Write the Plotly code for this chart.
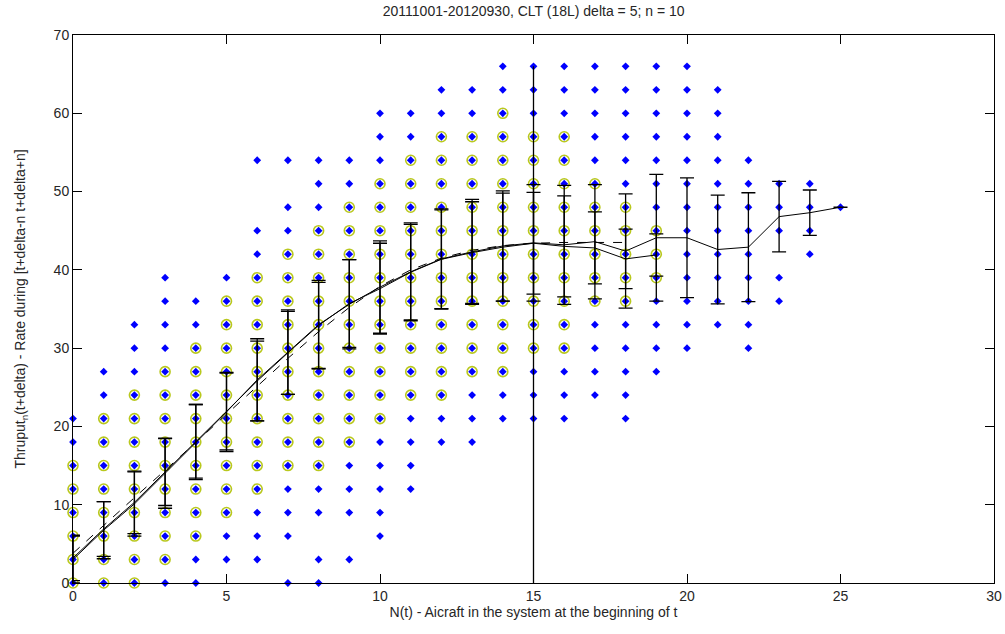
import plotly.graph_objects as go

# N(t) columns
n_values = list(range(26))

# observed throughput values (blue dots) per N
dots_by_n = [
    [0, 3, 6, 9, 12, 15, 18, 21],
    [0, 3, 6, 9, 12, 15, 18, 21, 24, 27],
    [0, 3, 6, 9, 12, 15, 18, 21, 24, 27, 30, 33],
    [0, 3, 6, 9, 12, 15, 18, 21, 24, 27, 30, 33, 36, 39],
    [0, 3, 6, 9, 12, 15, 18, 21, 24, 27, 30, 33, 36],
    [3, 6, 9, 12, 15, 18, 21, 24, 27, 30, 33, 36, 39],
    [3, 6, 9, 12, 15, 18, 21, 24, 27, 30, 33, 36, 39, 42, 45, 54],
    [0, 6, 9, 12, 15, 18, 21, 24, 27, 30, 33, 36, 39, 42, 45, 48, 54],
    [0, 3, 9, 12, 15, 18, 21, 24, 27, 30, 33, 36, 39, 42, 45, 48, 51, 54],
    [3, 9, 12, 15, 18, 21, 24, 27, 30, 33, 36, 39, 42, 45, 48, 51, 54],
    [6, 9, 12, 15, 18, 21, 24, 27, 30, 33, 36, 39, 42, 45, 48, 51, 54, 57, 60],
    [12, 15, 18, 21, 24, 27, 30, 33, 36, 39, 42, 45, 48, 51, 54, 57, 60],
    [18, 21, 24, 27, 30, 33, 36, 39, 42, 45, 48, 51, 54, 57, 60, 63],
    [18, 21, 24, 27, 30, 33, 36, 39, 42, 45, 48, 51, 54, 57, 60, 63],
    [21, 24, 27, 30, 33, 36, 39, 42, 45, 48, 51, 54, 57, 60, 63, 66],
    [21, 24, 27, 30, 33, 36, 39, 42, 45, 48, 51, 54, 57, 60, 63, 66],
    [21, 24, 27, 30, 33, 36, 39, 42, 45, 48, 51, 54, 57, 60, 63, 66],
    [24, 27, 30, 33, 36, 39, 42, 45, 48, 51, 54, 57, 60, 63, 66],
    [21, 24, 27, 30, 33, 36, 39, 42, 45, 48, 51, 54, 57, 60, 63, 66],
    [27, 30, 33, 36, 39, 42, 45, 48, 51, 54, 57, 60, 63, 66],
    [30, 33, 36, 39, 42, 45, 48, 51, 54, 57, 60, 63, 66],
    [33, 36, 39, 42, 45, 48, 51, 54, 57, 60, 63],
    [30, 33, 36, 39, 42, 45, 48, 51, 54],
    [36, 39, 45, 48, 51],
    [42, 45, 48, 51],
    [48],
]

# values highlighted with yellow circles per N
circled_by_n = [
    [0, 3, 6, 9, 12, 15],
    [0, 3, 6, 9, 12, 15, 18, 21],
    [0, 3, 6, 9, 12, 15, 18, 21, 24],
    [3, 6, 9, 12, 15, 18, 21, 24, 27],
    [6, 9, 12, 15, 18, 21, 24, 27, 30],
    [9, 12, 15, 18, 21, 24, 27, 30, 33, 36],
    [12, 15, 18, 21, 24, 27, 30, 33, 36, 39],
    [15, 18, 21, 24, 27, 30, 33, 36, 39, 42],
    [15, 18, 21, 24, 27, 30, 33, 36, 39, 42, 45],
    [18, 21, 24, 27, 30, 33, 36, 39, 42, 45, 48],
    [21, 24, 27, 30, 33, 36, 39, 42, 45, 48, 51],
    [24, 27, 30, 33, 36, 39, 42, 45, 48, 51, 54],
    [24, 27, 30, 33, 36, 39, 42, 45, 48, 51, 54, 57],
    [27, 30, 33, 36, 39, 42, 45, 48, 51, 54, 57],
    [27, 30, 33, 36, 39, 42, 45, 48, 51, 54, 57, 60],
    [30, 33, 36, 39, 42, 45, 48, 51, 54, 57],
    [30, 33, 36, 39, 42, 45, 48, 51, 54, 57],
    [36, 39, 42, 45, 48, 51],
    [36, 39, 42, 45, 48],
    [39, 42, 45],
]

# mean +/- std, all data
mean_all = [3.0, 6.75, 10.1, 14.0, 18.0, 21.85, 25.95, 29.5, 33.0, 35.6, 37.8, 39.75, 41.4,
            42.3, 43.05, 43.45, 43.2, 43.6, 42.4, 44.1, 44.1, 42.6, 42.9, 46.8, 47.3, 48.0]
std_all = [3.0, 3.65, 4.1, 4.45, 4.8, 5.05, 5.25, 5.4, 5.65, 5.7, 5.9, 6.25, 6.4,
           6.7, 7.05, 7.45, 7.6, 7.3, 7.3, 8.1, 7.65, 6.95, 6.95, 4.5, 2.9, 0.0]

# mean +/- std, circled subset
n_sub = list(range(20))
mean_sub = [3.2, 6.9, 10.3, 14.2, 18.1, 21.9, 25.8, 29.4, 32.9, 35.7, 37.6, 39.7, 41.35,
            42.2, 42.9, 43.4, 43.0, 42.8, 41.4, 41.9]
std_sub = [2.9, 3.5, 4.0, 4.3, 4.7, 4.9, 5.1, 5.3, 5.5, 5.6, 5.8, 6.1, 6.3,
           6.5, 6.9, 6.5, 6.45, 4.6, 3.8, 2.7]

# smooth fitted curve (dashed)
n_fit = list(range(19))
fit_vals = [3.8, 7.4, 10.9, 14.4, 18.0, 21.6, 25.2, 28.7, 32.1, 35.2, 37.9, 40.0, 41.5,
            42.5, 43.1, 43.4, 43.5, 43.5, 43.5]

# vertical marker line at N = 15
vline_x = [15, 15]
vline_y = [0, 66]

title_text = "20111001-20120930, CLT (18L) delta = 5; n = 10"
xlabel = "N(t) - Aicraft in the system at the beginning of t"
ylabel = "Thruput<sub>n</sub>(t+delta) - Rate during [t+delta-n t+delta+n]"

FONT = "Liberation Sans, Arial, sans-serif"
TXT = "#262626"

fig = go.Figure()

cx, cy = [], []
for n, vals in zip(n_values, circled_by_n):
    for v in vals:
        cx.append(n)
        cy.append(v)
fig.add_trace(go.Scatter(
    x=cx, y=cy, mode="markers", cliponaxis=False, hoverinfo="skip",
    marker=dict(symbol="circle-open", size=10, color="rgb(185,200,30)",
                line=dict(width=1.6, color="rgb(185,200,30)")),
    showlegend=False))

dx, dy = [], []
for n, vals in zip(n_values, dots_by_n):
    for v in vals:
        dx.append(n)
        dy.append(v)
fig.add_trace(go.Scatter(
    x=dx, y=dy, mode="markers", cliponaxis=False,
    marker=dict(symbol="diamond", size=6, color="#0000FF"),
    showlegend=False))

fig.add_trace(go.Scatter(
    x=vline_x, y=vline_y, mode="lines", line=dict(color="black", width=1.3),
    showlegend=False))

fig.add_trace(go.Scatter(
    x=n_fit, y=fit_vals, mode="lines", line=dict(color="black", width=1, dash="dash"),
    showlegend=False))

fig.add_trace(go.Scatter(
    x=n_sub, y=mean_sub, mode="lines", line=dict(color="black", width=1),
    error_y=dict(type="data", array=std_sub, visible=True, color="black",
                 thickness=1.3, width=7),
    showlegend=False))

fig.add_trace(go.Scatter(
    x=n_values, y=mean_all, mode="lines", line=dict(color="black", width=1),
    error_y=dict(type="data", array=std_all, visible=True, color="black",
                 thickness=1.3, width=7),
    showlegend=False))

axis_common = dict(
    showline=True, linecolor="black", linewidth=1, mirror="allticks",
    ticks="inside", ticklen=9, tickcolor="black", showgrid=False, zeroline=False,
    tickfont=dict(family=FONT, size=14, color=TXT),
)

fig.update_layout(
    width=1005, height=634,
    margin=dict(l=73, r=11, t=35, b=51),
    paper_bgcolor="white", plot_bgcolor="white",
    title=dict(text=title_text, x=0.531, xanchor="center", y=0.982, yanchor="middle",
               font=dict(family=FONT, size=14, color=TXT)),
    xaxis=dict(range=[0, 30], tick0=0, dtick=5,
               title=dict(text=xlabel, font=dict(family=FONT, size=14, color=TXT), standoff=0),
               automargin=False, **axis_common),
    yaxis=dict(range=[0, 70], tick0=0, dtick=10,
               title=dict(text=ylabel, font=dict(family=FONT, size=14, color=TXT), standoff=24),
               automargin=False, **axis_common),
    font=dict(family=FONT, color=TXT),
)

fig.write_html("out.html", config={"displayModeBar": False},
               post_script="document.body.style.margin='0';document.body.style.overflow='hidden';")
